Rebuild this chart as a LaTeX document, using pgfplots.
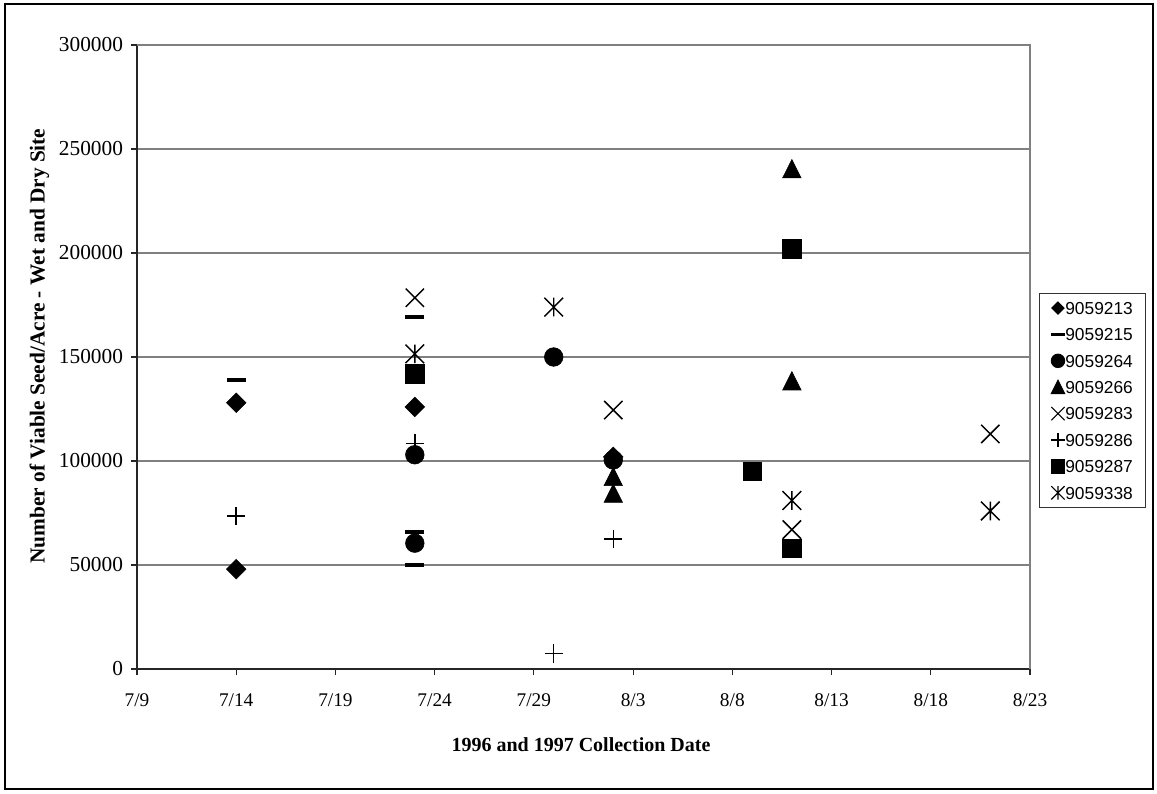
\documentclass[border=0pt]{standalone}
\usepackage{pgfplots}
\pgfplotsset{compat=1.18}
\usepackage{fontspec}
\setmainfont{Liberation Serif}
\newfontfamily\arial{Liberation Sans}
\pgfdeclareplotmark{xbar}{%
  \pgfpathmoveto{\pgfqpoint{-\pgfplotmarksize}{-\pgfplotmarksize}}%
  \pgfpathlineto{\pgfqpoint{\pgfplotmarksize}{\pgfplotmarksize}}%
  \pgfpathmoveto{\pgfqpoint{-\pgfplotmarksize}{\pgfplotmarksize}}%
  \pgfpathlineto{\pgfqpoint{\pgfplotmarksize}{-\pgfplotmarksize}}%
  \pgfpathmoveto{\pgfqpoint{0pt}{-\pgfplotmarksize}}%
  \pgfpathlineto{\pgfqpoint{0pt}{\pgfplotmarksize}}%
  \pgfusepathqstroke}
\begin{document}
\begin{tikzpicture}
\useasboundingbox (0,0) rectangle (867.75pt,594.75pt);
\draw[line width=1.5pt] (3.75pt,3pt) rectangle (864.75pt,591.75pt);
\node[rotate=90, font=\fontsize{16}{18}\selectfont\bfseries] at (29.5pt,335.25pt) {Number of Viable Seed/Acre - Wet and Dry Site};
\node[font=\fontsize{15}{18}\selectfont\bfseries] at (435.75pt,36.5pt) {1996 and 1997 Collection Date};
\begin{axis}[
  at={(102.75pt,93pt)}, anchor=south west,
  scale only axis, width=669.75pt, height=468pt,
  xmin=0, xmax=45, ymin=0, ymax=300000,
  xtick={0,5,...,45},
  xticklabels={7/9,7/14,7/19,7/24,7/29,8/3,8/8,8/13,8/18,8/23},
  ytick={0,50000,100000,150000,200000,250000,300000},
  scaled y ticks=false,
  /pgf/number format/assume math mode=true,
  /pgf/number format/fixed,
  /pgf/number format/1000 sep={},
  xticklabel style={font=\fontsize{14.5}{16}\selectfont, yshift=-10.5pt},
  yticklabel style={font=\fontsize{16}{18}\selectfont, xshift=-2.5pt},
  axis x line*=bottom, axis y line*=left,
  axis line style={line width=1pt, color=black!85, -},
  tick align=outside, major tick length=4.5pt,
  tick style={line width=0.8pt, color=black!85},
  ymajorgrids, grid style={line width=0.9pt, color=black!50},
  clip=false,
  legend style={at={(1.0101,0.6026)}, anchor=north west, draw=black!80, line width=0.8pt,
    font=\arial\fontsize{13}{15}\selectfont, inner xsep=8.8pt, inner ysep=5.2pt, row sep=8.4pt,
    column sep=0pt,
    nodes={inner ysep=1pt, inner xsep=0.5pt, text height=9.4pt, text depth=0pt}},
  legend cell align=left,
  legend image code/.code={\draw[#1] plot coordinates {(0pt,0pt)};},
]
\draw[black!50, line width=0.9pt] (rel axis cs:0,1) -- (rel axis cs:1,1) -- (rel axis cs:1,0);
% 9059213 diamond
\addplot[only marks, mark=square*, mark size=5.2pt, mark options={rotate=45, fill=black, draw=black}, forget plot]
  coordinates {(5,128000) (5,48000) (14,126000) (24,102000)};
% 9059215 dash
\addplot[only marks, mark=-, mark size=7.1pt, mark options={line width=3pt}, forget plot]
  coordinates {(5,139000) (14,169000) (14,66000) (14,49800)};
% 9059264 circle
\addplot[only marks, mark=*, mark size=7pt, forget plot]
  coordinates {(14,103000) (14,60500) (21,150000) (24,100500)};
% 9059266 triangle
\addplot[only marks, mark=triangle*, mark size=8pt, mark options={yshift=-2.2pt, yscale=1.15}, forget plot]
  coordinates {(24,92500) (24,84500) (33,240500) (33,138500)};
% 9059283 x
\addplot[only marks, mark=x, mark size=9.7pt, mark options={line width=1.1pt}, forget plot]
  coordinates {(14,178500) (24,124500) (33,67000) (43,113000)};
% 9059286 plus
\addplot[only marks, mark=+, mark size=6.9pt, mark options={line width=1.1pt}, forget plot]
  coordinates {(5,73500) (14,108500) (21,7500) (24,62500)};
% 9059287 square
\addplot[only marks, mark=square*, mark size=7pt, forget plot]
  coordinates {(14,142000) (31,95000) (33,202000) (33,58000)};
% 9059338 asterisk
\addplot[only marks, mark=xbar, mark size=7pt, mark options={line width=1.1pt}, forget plot]
  coordinates {(14,151500) (21,174000) (33,81000) (43,76000)};

\addlegendimage{only marks, mark=square*, mark size=3.2pt, mark options={rotate=45}}
\addlegendentry{9059213}
\addlegendimage{only marks, mark=-, mark size=5pt, mark options={line width=2.6pt}}
\addlegendentry{9059215}
\addlegendimage{only marks, mark=*, mark size=5pt}
\addlegendentry{9059264}
\addlegendimage{only marks, mark=triangle*, mark size=5.8pt, mark options={yshift=-1.5pt, yscale=1.15}}
\addlegendentry{9059266}
\addlegendimage{only marks, mark=x, mark size=7pt, mark options={line width=0.8pt}}
\addlegendentry{9059283}
\addlegendimage{only marks, mark=+, mark size=5pt, mark options={line width=0.9pt}}
\addlegendentry{9059286}
\addlegendimage{only marks, mark=square*, mark size=5pt}
\addlegendentry{9059287}
\addlegendimage{only marks, mark=xbar, mark size=5pt, mark options={line width=0.9pt}}
\addlegendentry{9059338}
\end{axis}
\end{tikzpicture}
\end{document}
